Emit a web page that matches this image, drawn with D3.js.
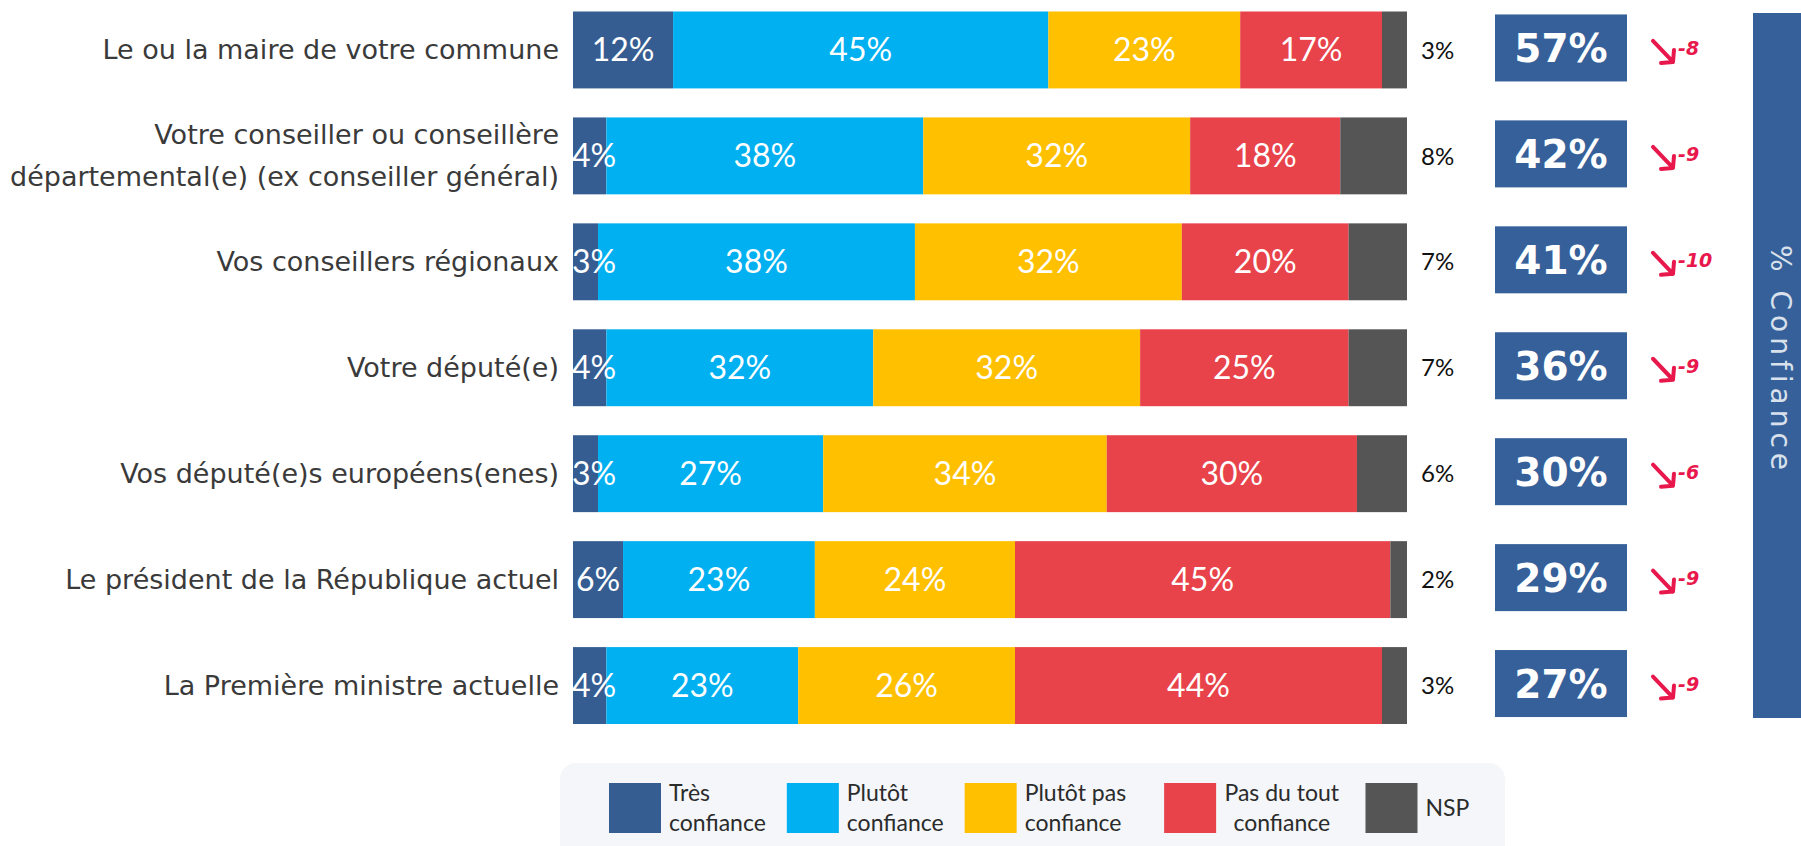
<!DOCTYPE html>
<html>
<head>
<meta charset="utf-8">
<script src="https://cdn.jsdelivr.net/npm/d3@7"></script>
<style>
  body { margin: 0; background: #fff; }
  svg { display: block; }
</style>
</head>
<body>
<svg width="1801" height="846"></svg>
<script>

// Survey rows (top to bottom)
const categories = [
  ["Le ou la maire de votre commune"],
  ["Votre conseiller ou conseillère", "départemental(e) (ex conseiller général)"],
  ["Vos conseillers régionaux"],
  ["Votre député(e)"],
  ["Vos député(e)s européens(enes)"],
  ["Le président de la République actuel"],
  ["La Première ministre actuelle"]
];

// answer shares, in %
const tres      = [12, 4, 3, 4, 3, 6, 4];
const plutot    = [45, 38, 38, 32, 27, 23, 23];
const plutotPas = [23, 32, 32, 32, 34, 24, 26];
const pasDuTout = [17, 18, 20, 25, 30, 45, 44];
const nsp       = [3, 8, 7, 7, 6, 2, 3];

// total confidence and change
const confiance = [57, 42, 41, 36, 30, 29, 27];
const evolution = [-8, -9, -10, -9, -6, -9, -9];

const seriesKeys   = ["tres", "plutot", "plutotPas", "pasDuTout", "nsp"];
const seriesLabels = [["Très", "confiance"], ["Plutôt", "confiance"], ["Plutôt pas", "confiance"], ["Pas du tout", "confiance"], ["NSP"]];
const colors       = ["#355d92", "#00b0f0", "#ffc000", "#e8424a", "#555555"];

const rows = categories.map(function(c, i) {
  return { id: i, label: c, tres: tres[i], plutot: plutot[i], plutotPas: plutotPas[i],
           pasDuTout: pasDuTout[i], nsp: nsp[i], conf: confiance[i], evo: evolution[i] };
});

const svg = d3.select("svg");

const x = d3.scaleLinear().domain([0, 100]).range([573, 1407]);
const y = d3.scaleBand().domain(rows.map(d => d.id)).range([11.5, 724]).paddingInner(0.274).paddingOuter(0);
const color = d3.scaleOrdinal().domain(seriesKeys).range(colors);

const stacked = d3.stack().keys(seriesKeys)(rows);

// bars
const layers = svg.append("g").selectAll("g")
  .data(stacked)
  .join("g")
  .attr("fill", d => color(d.key));

layers.selectAll("rect")
  .data(d => d)
  .join("rect")
  .attr("x", d => x(d[0]))
  .attr("y", d => y(d.data.id))
  .attr("width", d => x(d[1]) - x(d[0]))
  .attr("height", y.bandwidth());

// value labels inside bars (all but NSP)
stacked.slice(0, 4).forEach(function(layer) {
  svg.append("g").selectAll("text")
    .data(layer)
    .join("text")
    .attr("x", d => Math.max((x(d[0]) + x(d[1])) / 2, x(0) + 21))
    .attr("y", d => y(d.data.id) + y.bandwidth() / 2)
    .attr("dy", "0.36em")
    .attr("text-anchor", "middle")
    .attr("font-family", "Lato, 'Open Sans', sans-serif")
    .attr("font-size", 32)
    .attr("fill", "#fff")
    .text(d => (d[1] - d[0]) + "%");
});

// NSP label outside
svg.append("g").selectAll("text")
  .data(rows)
  .join("text")
  .attr("x", x(100) + 14)
  .attr("y", d => y(d.id) + y.bandwidth() / 2)
  .attr("dy", "0.36em")
  .attr("font-family", "Lato, sans-serif")
  .attr("font-size", 24)
  .attr("fill", "#111")
  .text(d => d.nsp + "%");

// category labels
const lab = svg.append("g").selectAll("text")
  .data(rows)
  .join("text")
  .attr("text-anchor", "end")
  .attr("font-family", "'DejaVu Sans', Verdana, sans-serif")
  .attr("font-size", 27)
  .attr("fill", "#3a3a3a");

lab.each(function(d) {
  const t = d3.select(this);
  const n = d.label.length;
  d.label.forEach(function(line, k) {
    t.append("tspan")
      .attr("x", 559)
      .attr("y", y(d.id) + y.bandwidth() / 2 + (k - (n - 1) / 2) * 42)
      .attr("dy", "0.35em")
      .text(line);
  });
});

// % confiance boxes
const bx = svg.append("g");
bx.selectAll("rect")
  .data(rows)
  .join("rect")
  .attr("x", 1495)
  .attr("y", d => y(d.id) + y.bandwidth() / 2 - 35.5)
  .attr("width", 132)
  .attr("height", 67)
  .attr("fill", "#36609a");

bx.selectAll("text")
  .data(rows)
  .join("text")
  .attr("x", 1561)
  .attr("y", d => y(d.id) + y.bandwidth() / 2 - 2)
  .attr("dy", "0.36em")
  .attr("text-anchor", "middle")
  .attr("font-family", "'DejaVu Sans', Verdana, sans-serif")
  .attr("font-weight", "bold")
  .attr("font-size", 39)
  .attr("fill", "#fff")
  .text(d => d.conf + "%");

// evolution arrows
const ev = svg.append("g").attr("stroke", "#e8184c").attr("fill", "none")
  .attr("stroke-width", 4).attr("stroke-linecap", "round").attr("stroke-linejoin", "round");

ev.selectAll("path")
  .data(rows)
  .join("path")
  .attr("d", function(d) {
    const cy = y(d.id) + y.bandwidth() / 2 + 2;
    const x0 = 1653, y0 = cy - 11, x1 = 1673, y1 = cy + 10;
    return "M" + x0 + "," + y0 + "L" + x1 + "," + y1 +
           "M" + (x1 - 12) + "," + (y1 + 1) + "L" + x1 + "," + y1 + "L" + (x1 + 1) + "," + (y1 - 12);
  });

svg.append("g").selectAll("text")
  .data(rows)
  .join("text")
  .attr("x", 1678)
  .attr("y", d => y(d.id) + y.bandwidth() / 2 + 5)
  .attr("font-family", "'DejaVu Sans', Verdana, sans-serif")
  .attr("font-weight", "bold")
  .attr("font-style", "italic")
  .attr("font-size", 19)
  .attr("fill", "#e8184c")
  .text(d => "-" + Math.abs(d.evo));

// side panel
svg.append("rect")
  .attr("x", 1753).attr("y", 13).attr("width", 60).attr("height", 705)
  .attr("fill", "#36609a");

svg.append("text")
  .attr("transform", "translate(1781,360) rotate(90)")
  .attr("text-anchor", "middle")
  .attr("dy", "0.35em")
  .attr("font-family", "'DejaVu Sans', Verdana, sans-serif")
  .attr("font-size", 28)
  .attr("letter-spacing", 5)
  .attr("fill", "#d9e1ec")
  .text("% Confiance");

// legend
const leg = svg.append("g");
leg.append("rect")
  .attr("x", 560).attr("y", 763).attr("width", 945).attr("height", 110)
  .attr("rx", 16)
  .attr("fill", "#f4f6f9");

const legendGaps = [21, 21, 38, 26, 0];
let lx = 609;
seriesKeys.forEach(function(k, i) {
  leg.append("rect")
    .attr("x", lx).attr("y", 783).attr("width", 52).attr("height", 50)
    .attr("fill", color(k));
  const t = leg.append("text")
    .attr("font-family", "Lato, sans-serif")
    .attr("font-size", 23)
    .attr("fill", "#2b2b2b");
  const lines = seriesLabels[i];
  lines.forEach(function(line, j) {
    t.append("tspan")
      .attr("x", lx + 60)
      .attr("y", 808 + (j - (lines.length - 1) / 2) * 30)
      .attr("dy", "0.35em")
      .text(line);
  });
  // "Pas du tout" block is centred in the original
  if (i === 3) {
    const w = t.node().getBBox().width;
    t.selectAll("tspan").attr("text-anchor", "middle").attr("x", lx + 60 + w / 2);
  }
  lx += 60 + t.node().getBBox().width + legendGaps[i];
});

</script>
</body>
</html>
